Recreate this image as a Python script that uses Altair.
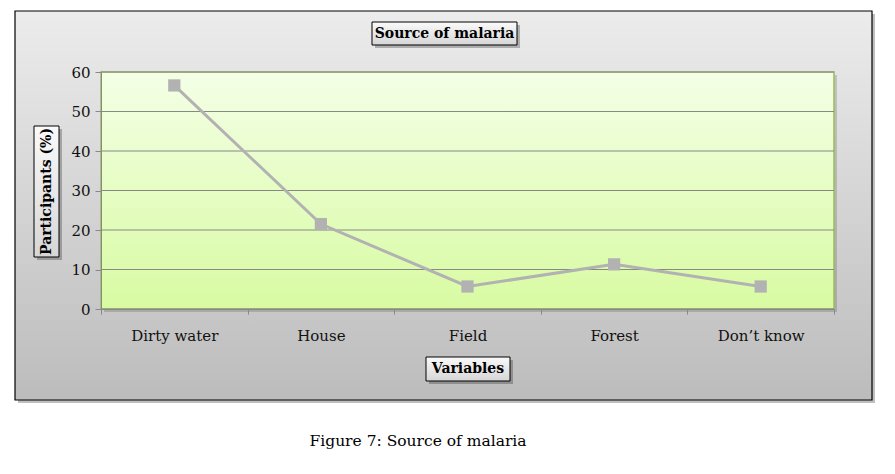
import altair as alt
import pandas as pd

categories = ["Dirty water", "House", "Field", "Forest", "Don\u2019t know"]
values = [56.6, 21.5, 5.7, 11.3, 5.7]
y_ticks = [0, 10, 20, 30, 40, 50, 60]

chart_title = "Source of malaria"
x_title = "Variables"
y_title = "Participants (%)"
caption = "Figure 7: Source of malaria"

FONT = "DejaVu Serif"
W, H = 733, 237

df = pd.DataFrame({"cat": categories, "val": values})
grid_df = pd.DataFrame({"t": y_ticks})
one = pd.DataFrame({"k": [0]})

x_enc = alt.X("cat:N", sort=categories, title=None,
              scale=alt.Scale(domain=categories, paddingInner=0, paddingOuter=0),
              axis=alt.Axis(labelAngle=0, tickBand="extent", tickSize=5, tickColor="#888888",
                            domainColor="#888888", labelFont=FONT, labelFontSize=15,
                            labelColor="#111111", labelPadding=14, zindex=1, grid=False))
y_scale = alt.Scale(domain=[0, 60], nice=False)
y_axis = alt.Axis(values=y_ticks, tickSize=6, tickColor="#888888", domainColor="#888888",
                  labelFont=FONT, labelFontSize=15, labelColor="#111111",
                  labelOverlap=False, labelFlush=False,
                  labelPadding=5, zindex=1, grid=False)
y_enc = alt.Y("val:Q", scale=y_scale, title=None, axis=y_axis)

def grad(c0, c1):
    return alt.LinearGradient(gradient="linear", x1=0, x2=0, y1=0, y2=1,
                              stops=[alt.GradientStop(offset=0, color=c0),
                                     alt.GradientStop(offset=1, color=c1)])

def box(x1, x2, y1, y2, fill, stroke="black", sw=1, shadow=True):
    layers = []
    if shadow:
        layers.append(alt.Chart(one).mark_rect(fill="#000000", opacity=0.25).encode(
            x=alt.value(x1 + 3), x2=alt.value(x2 + 3), y=alt.value(y1 + 3), y2=alt.value(y2 + 3)))
    layers.append(alt.Chart(one).mark_rect(fill=fill, stroke=stroke, strokeWidth=sw).encode(
        x=alt.value(x1), x2=alt.value(x2), y=alt.value(y1), y2=alt.value(y2)))
    return layers

def label(txt, x, y, size, bold=False, angle=0):
    return alt.Chart(one).mark_text(text=txt, font=FONT, fontSize=size,
                                    fontWeight="bold" if bold else "normal",
                                    color="#000000", angle=angle,
                                    align="center", baseline="middle").encode(
        x=alt.value(x), y=alt.value(y))

layers = []
# outer frame
layers += box(-86, 771, -61, 328, grad("#ececec", "#bcbcbc"), stroke="#000000", sw=1.2)
# plot area shadow + area
layers.append(alt.Chart(one).mark_rect(fill="#000000", opacity=0.15).encode(
    x=alt.value(3), x2=alt.value(W + 3), y=alt.value(3), y2=alt.value(H + 3)))
layers.append(alt.Chart(one).mark_rect(fill=grad("#f4ffe6", "#d8fba2"), stroke="#9bbb59", strokeWidth=1.5).encode(
    x=alt.value(0), x2=alt.value(W), y=alt.value(0), y2=alt.value(H)))
# gridlines
layers.append(alt.Chart(grid_df).mark_rule(color="#888888", strokeWidth=1).encode(
    y=alt.Y("t:Q", scale=y_scale, title=None, axis=y_axis), x=alt.value(0), x2=alt.value(W)))
# title boxes
layers += box(271, 416, -50, -27, grad("#fafafa", "#d6d6d6"))
layers.append(label(chart_title, 343.5, -38, 14, bold=True))
layers += box(-67, -42, 54, 185, grad("#fafafa", "#d6d6d6"))
layers.append(label(y_title, -54.5, 119.5, 14, bold=True, angle=270))
layers += box(325, 409, 285, 309, grad("#fafafa", "#d6d6d6"))
layers.append(label(x_title, 367, 297, 14, bold=True))
# caption
layers.append(label(caption, 317, 369, 15.5))

line = alt.Chart(df).mark_line(color="#b2b2b2", strokeWidth=3).encode(x=x_enc, y=y_enc)
pts = alt.Chart(df).mark_point(shape="square", filled=True, size=150, color="#b2b2b2", opacity=1).encode(
    x=x_enc, y=y_enc)

chart = alt.layer(*layers, line, pts).properties(
    width=W, height=H,
    autosize=alt.AutoSizeParams(type="none"),
    padding={"left": 93, "top": 64, "right": 53, "bottom": 157},
).configure_view(stroke=None).configure(background="white")

chart.save("out.html", embed_options={"renderer": "svg", "actions": False})
